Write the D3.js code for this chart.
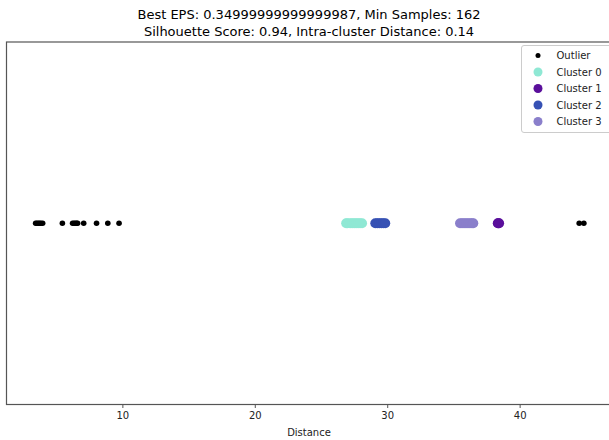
<!DOCTYPE html>
<html>
<head>
<meta charset="utf-8">
<script src="https://cdn.jsdelivr.net/npm/d3@7"></script>
<style>
  body { margin: 0; background: #fff; }
  text { font-family: "DejaVu Sans", sans-serif; }
</style>
</head>
<body>
<div id="chart"></div>
<script>
var width = 609,
    height = 440;

var titleLines = [
  "Best EPS: 0.34999999999999987, Min Samples: 162",
  "Silhouette Score: 0.94, Intra-cluster Distance: 0.14"
];

var xTicks = [10, 20, 30, 40];

// distances
var outlier = [3.45, 3.55, 3.65, 3.75, 3.85, 3.98, 5.47, 6.24, 6.35, 6.45, 6.55, 6.62,
               7.08, 8.05, 8.9, 9.75, 44.5, 44.85];
var cluster0 = [26.9, 27.0, 27.2, 27.35, 27.5, 27.65, 27.8, 27.95, 28.1];
var cluster1 = [38.35, 38.4, 38.45];
var cluster2 = [29.1, 29.25, 29.4, 29.55, 29.7, 29.85];
var cluster3 = [35.5, 35.65, 35.8, 35.95, 36.1, 36.25, 36.4, 36.5];

var series = [
  {name: "Outlier",   values: outlier,  color: "#000000", r: 2.8},
  {name: "Cluster 0", values: cluster0, color: "#8fe8d4", r: 5},
  {name: "Cluster 1", values: cluster1, color: "#5a0f9b", r: 5},
  {name: "Cluster 2", values: cluster2, color: "#3651b4", r: 5},
  {name: "Cluster 3", values: cluster3, color: "#8a7fcb", r: 5}
];

var x = d3.scaleLinear().domain([1.25, 46.9]).range([6.5, 611]);
var y = d3.scaleLinear().domain([-0.055, 0.055]).range([404.5, 42]);

var svg = d3.select("#chart").append("svg")
    .attr("width", width)
    .attr("height", height);

svg.selectAll("text.title")
    .data(titleLines)
  .enter().append("text")
    .attr("class", "title")
    .attr("x", 309)
    .attr("y", function(d, i) { return 19 + i * 17; })
    .attr("text-anchor", "middle")
    .style("font-size", "13px")
    .text(function(d) { return d; });

// frame
svg.append("rect")
    .attr("x", 6.5)
    .attr("y", 42)
    .attr("width", 604.5)
    .attr("height", 362.5)
    .attr("fill", "none")
    .attr("stroke", "#555")
    .attr("stroke-width", 1.2);

var xAxis = svg.append("g")
    .attr("transform", "translate(0,404.5)")
    .call(d3.axisBottom(x).tickValues(xTicks).tickSize(3.5).tickPadding(4));
xAxis.select(".domain").remove();
xAxis.selectAll("line").attr("stroke", "#555");
xAxis.selectAll("text")
    .style("font-size", "10px")
    .style("font-family", "DejaVu Sans, sans-serif")
    .attr("fill", "#222");

svg.append("text")
    .attr("x", 309)
    .attr("y", 436)
    .attr("text-anchor", "middle")
    .style("font-size", "10px")
    .attr("fill", "#222")
    .text("Distance");

series.forEach(function(s) {
  svg.append("g").selectAll("circle")
      .data(s.values)
    .enter().append("circle")
      .attr("cx", function(d) { return x(d); })
      .attr("cy", y(0))
      .attr("r", s.r)
      .attr("fill", s.color);
});

// legend
var legend = svg.append("g").attr("transform", "translate(521.5,45.5)");
legend.append("rect")
    .attr("width", 90)
    .attr("height", 87)
    .attr("rx", 2.5)
    .attr("fill", "#fff")
    .attr("fill-opacity", 0.8)
    .attr("stroke", "#ccc");

var item = legend.selectAll("g.item")
    .data(series)
  .enter().append("g")
    .attr("class", "item")
    .attr("transform", function(d, i) { return "translate(0," + (10 + i * 16.5) + ")"; });
item.append("circle")
    .attr("cx", 16.5)
    .attr("r", function(d) { return d.r === 5 ? 4.5 : 2.5; })
    .attr("fill", function(d) { return d.color; });
item.append("text")
    .attr("x", 35)
    .attr("dy", "0.35em")
    .style("font-size", "10px")
    .attr("fill", "#222")
    .text(function(d) { return d.name; });
</script>
</body>
</html>
